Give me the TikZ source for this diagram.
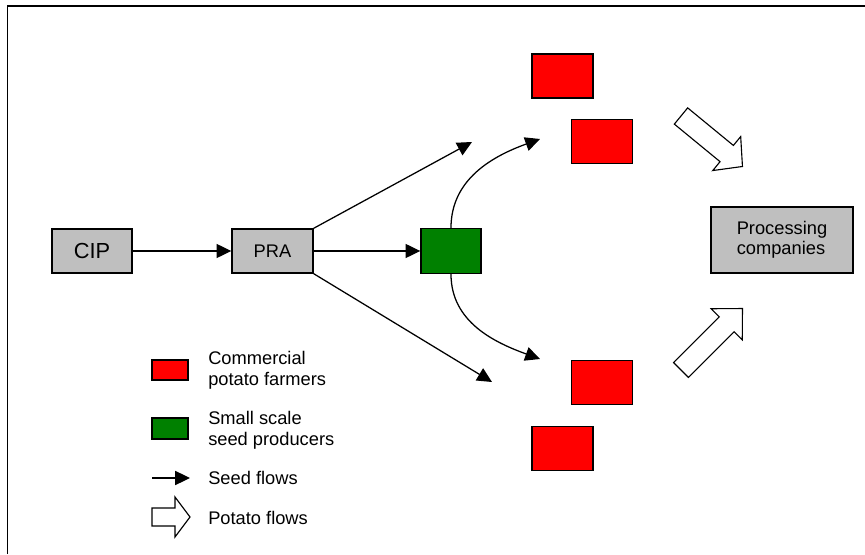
\documentclass[tikz,border=0pt]{standalone}
\usepackage{fontspec}
\setmainfont{Liberation Sans}
\usetikzlibrary{arrows.meta}

\begin{document}
\begin{tikzpicture}[
  box/.style={draw,line width=1pt,fill=gray!50,minimum width=2cm,minimum height=1.1cm,font=\fontsize{13}{14}\selectfont},
  farmer/.style={draw,line width=1pt,fill=red,minimum width=1.525cm,minimum height=1.1cm},
  producer/.style={draw,line width=1pt,fill=green!50!black,minimum width=1.5cm,minimum height=1.125cm},
  seed/.style={line width=0.9pt,-{Triangle[length=10.5pt,width=10pt]}},
  potato/.style={line width=0.8pt,fill=white,line join=miter},
  legend/.style={anchor=west,align=left,inner sep=0pt,font=\fontsize{13}{15}\selectfont},
  potato arrow/.pic={\draw[potato] (0,-0.2625) -- (1.525,-0.2625) -- (1.525,-0.55) -- (2.05,0) -- (1.525,0.55) -- (1.525,0.2625) -- (0,0.2625) -- cycle;}
]
\useasboundingbox (0,0) rectangle (21.625,13.85);
\draw[line width=1pt] (0.1875,0) -- (0.1875,13.7) -- (21.625,13.7);

\node[box,font=\fontsize{15.5}{16}\selectfont] (cip) at (2.3,7.575) {CIP};
\node[box,minimum width=2.025cm] (pra) at (6.8125,7.575) {PRA};
\node[producer] (ssp) at (11.275,7.575) {};
\node[farmer] (cf1) at (14.06,11.95) {};
\node[farmer] (cf2) at (15.05,10.3125) {};
\node[farmer] (cf3) at (15.05,4.2875) {};
\node[farmer] (cf4) at (14.06,2.6375) {};
\node[box,minimum width=3.55cm,minimum height=1.65cm,align=left] (proc) at (19.55,7.85) {Processing\\companies};

\coordinate (up) at (11.8,10.3);
\coordinate (down) at (12.3,4.3);
\coordinate (upc) at (13.5,10.375);
\coordinate (downc) at (13.5,4.875);

\draw[seed] (cip) -- (pra);
\draw[seed] (pra.north east) -- (up);
\draw[seed] (pra) -- (ssp);
\draw[seed] (pra.south east) -- (down);
\draw[seed] (ssp.north) to[out=90,in=200] (upc);
\draw[seed] (ssp.south) to[out=-90,in=160] (downc);

\pic[rotate=-39.4,xscale=0.97] at (17.025,10.95) {potato arrow};
\pic[rotate=45,xscale=1.06] at (17.025,4.6) {potato arrow};

% legend
\node[farmer,minimum width=0.9cm,minimum height=0.5cm] (lgred) at (4.25,4.6) {};
\node[producer,minimum width=0.9cm,minimum height=0.525cm] (lggreen) at (4.25,3.1375) {};
\node[legend] (lgredtxt) at (5.2,4.6) {Commercial\\potato farmers};
\node[legend] (lggreentxt) at (5.2,3.1) {Small scale\\seed producers};
\coordinate (lgseed) at (3.8,1.9);
\draw[seed] (lgseed) -- ++(0.95,0);
\node[legend] (lgseedtxt) at (5.2,1.9) {Seed flows};
\draw[potato] (3.8,1.15) -- (4.375,1.15) -- (4.375,1.425) -- (4.75,0.925) -- (4.375,0.425) -- (4.375,0.7) -- (3.8,0.7) -- cycle;
\node[legend] (lgpotatotxt) at (5.2,0.9) {Potato flows};
\end{tikzpicture}
\end{document}
